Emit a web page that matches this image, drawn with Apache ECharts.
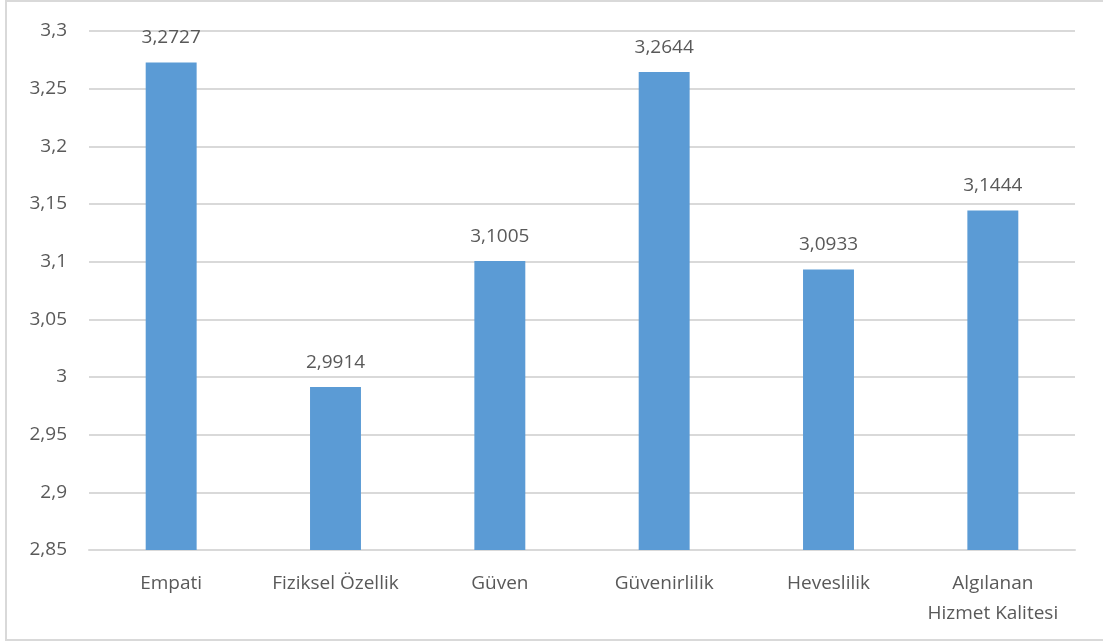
<!DOCTYPE html>
<html><head><meta charset="utf-8">
<script src="https://cdn.jsdelivr.net/npm/echarts@6/dist/echarts.min.js"></script>
<style>html,body{margin:0;padding:0;background:#fff}#c{width:1103px;height:643px}</style>
</head><body><div id="c"></div>
<script>
var categories = ['Empati', 'Fiziksel Özellik', 'Güven', 'Güvenirlilik', 'Heveslilik', 'Algılanan\nHizmet Kalitesi'];
var values = [3.2727, 2.9914, 3.1005, 3.2644, 3.0933, 3.1444];
var yMin = 2.85, yMax = 3.3, yStep = 0.05;
function fmt(v, d) { return (Math.round(v * Math.pow(10, d)) / Math.pow(10, d)).toString().replace('.', ','); }
var chart = echarts.init(document.getElementById('c'));
var font = '"Open Sans", Lato, sans-serif';
chart.setOption({
  animation: false,
  graphic: [{ type: 'rect', shape: { x: 6, y: 1, width: 1120, height: 639 }, style: { fill: 'none', stroke: '#d9d9d9', lineWidth: 2 }, silent: true }],
  grid: { left: 89, right: 28, top: 31, bottom: 93 },
  xAxis: {
    type: 'category', data: categories,
    axisLine: { lineStyle: { color: '#d9d9d9', width: 2 } },
    axisTick: { show: false },
    axisLabel: { color: '#595959', fontSize: 19, fontFamily: font, margin: 19, lineHeight: 30, interval: 0 }
  },
  yAxis: {
    type: 'value', min: yMin, max: yMax, interval: yStep,
    axisLine: { show: false }, axisTick: { show: false },
    splitLine: { lineStyle: { color: '#d9d9d9', width: 2 } },
    axisLabel: { color: '#595959', fontSize: 19, fontFamily: font, margin: 22, formatter: function (v) { return fmt(v, 2); } }
  },
  series: [{
    type: 'bar', data: values, barWidth: '31%',
    itemStyle: { color: '#5b9bd5' },
    label: { show: true, position: 'top', distance: 15, color: '#595959', fontSize: 19, fontFamily: font, formatter: function (p) { return fmt(p.value, 4); } }
  }]
});
</script></body></html>
